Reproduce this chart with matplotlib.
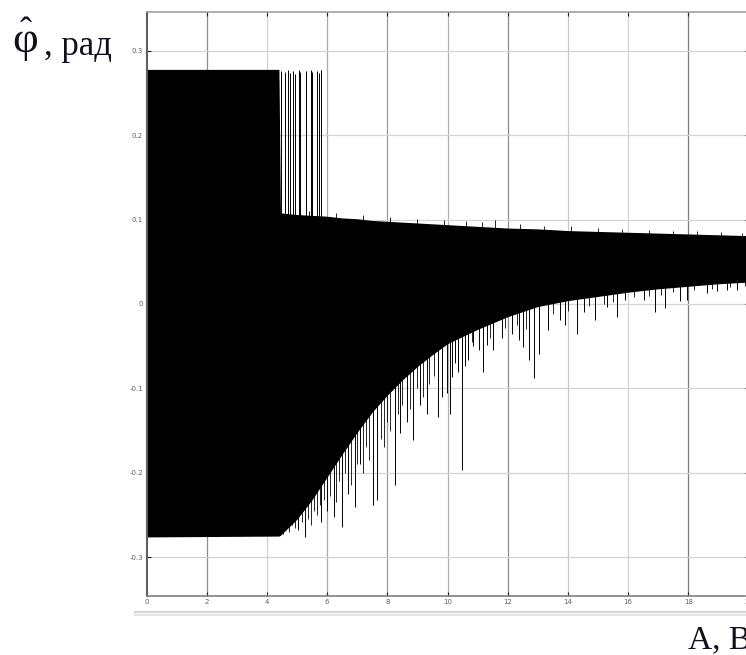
import matplotlib
matplotlib.use("Agg")
import matplotlib.pyplot as plt
from matplotlib.lines import Line2D

# ---- signal data: dense oscillation band (upper / lower envelope) ----
env_x = [0.0, 4.40, 4.45, 5.0, 5.5, 6.0, 6.5, 7.0, 7.5, 8.0, 8.5, 9.0,
         9.5, 10.0, 11.0, 12.0, 13.0, 14.0, 15.0, 16.0, 17.0, 18.0, 19.0, 20.0]
env_hi = [0.278, 0.278, 0.108, 0.106, 0.105, 0.104, 0.102, 0.101, 0.099, 0.098,
          0.097, 0.096, 0.095, 0.094, 0.092, 0.090, 0.089, 0.087, 0.086, 0.085,
          0.084, 0.083, 0.082, 0.081]
env_lo = [-0.276, -0.275, -0.274, -0.255, -0.232, -0.205, -0.178, -0.152, -0.128,
          -0.108, -0.090, -0.074, -0.060, -0.047, -0.030, -0.015, -0.003, 0.004,
          0.009, 0.014, 0.018, 0.021, 0.024, 0.026]

# isolated upward bursts after the large-amplitude stage
up_x = [4.48, 4.60, 4.69, 4.78, 4.86, 4.93, 5.06, 5.11, 5.31, 5.48, 5.51,
        5.67, 5.73, 5.81]
up_y = [0.276, 0.275, 0.277, 0.274, 0.276, 0.272, 0.277, 0.275, 0.276, 0.277,
        0.275, 0.276, 0.274, 0.277]

# small ripples on top of the band
rip_x = [4.7, 5.4, 6.3, 7.2, 8.1, 9.0, 9.9, 10.6, 11.14, 11.58, 12.4, 13.2,
         14.1, 15.0, 15.8, 16.7, 17.5, 18.3, 19.1, 19.8]
rip_y = [0.112, 0.110, 0.108, 0.106, 0.103, 0.101, 0.100, 0.098, 0.0977, 0.0996,
         0.095, 0.093, 0.092, 0.090, 0.089, 0.088, 0.087, 0.086, 0.085, 0.084]

# isolated downward excursions below the band
dn_x = [5.04, 5.26, 5.81, 6.00, 6.22, 6.48, 6.70, 6.92, 7.09, 7.53, 7.66,
        8.25, 8.42, 8.64, 8.86, 9.08, 9.31, 9.69, 9.81, 9.97, 10.08, 10.14,
        10.25, 10.36, 10.47, 10.58, 10.69, 10.86, 11.03, 11.17, 11.30, 11.52,
        11.80, 12.14, 12.36, 12.52, 12.72, 12.86, 13.05, 13.35, 13.74, 13.91,
        14.30, 14.52, 14.91, 15.30, 15.63, 15.91, 16.52, 16.91, 17.24, 17.74,
        17.96, 18.63, 18.96, 19.29, 19.62]
dn_y = [-0.268, -0.276, -0.258, -0.245, -0.252, -0.264, -0.225, -0.240, -0.190,
        -0.238, -0.232, -0.215, -0.153, -0.140, -0.161, -0.120, -0.130, -0.134,
        -0.110, -0.106, -0.130, -0.086, -0.070, -0.080, -0.197, -0.074, -0.066,
        -0.050, -0.055, -0.080, -0.048, -0.055, -0.040, -0.035, -0.043, -0.051,
        -0.066, -0.088, -0.059, -0.031, -0.019, -0.025, -0.035, -0.009, -0.019,
        -0.003, -0.015, 0.005, 0.005, -0.009, -0.005, 0.003, 0.005, 0.013,
        0.015, 0.017, 0.017]

# denser fringe of shorter excursions along the lower edge
fr_x = [4.55, 4.65, 4.75, 4.85, 4.95, 5.15, 5.35, 5.45, 5.55, 5.65, 5.75, 5.90,
        6.10, 6.30, 6.40, 6.60, 6.80, 7.00, 7.20, 7.30, 7.40, 7.80, 7.90, 8.00,
        8.10, 8.35, 8.50, 8.75, 9.00, 9.20, 9.40, 9.55, 10.8, 11.4, 11.9, 12.3,
        12.6, 13.5, 14.0, 14.7, 15.2, 15.5, 16.2, 16.7, 17.1, 17.5, 18.2, 18.8,
        19.4, 19.9]
fr_y = [-0.272, -0.268, -0.270, -0.262, -0.266, -0.258, -0.255, -0.262, -0.245,
        -0.250, -0.238, -0.232, -0.228, -0.235, -0.210, -0.200, -0.215, -0.190,
        -0.200, -0.170, -0.185, -0.160, -0.170, -0.140, -0.150, -0.130, -0.120,
        -0.125, -0.100, -0.110, -0.095, -0.085, -0.045, -0.040, -0.028, -0.025,
        -0.030, -0.012, -0.008, -0.002, 0.000, 0.002, 0.008, 0.010, 0.011, 0.014,
        0.016, 0.018, 0.020, 0.021]

x_ticks = [0, 2, 4, 6, 8, 10, 12, 14, 16, 18, 20]
y_ticks = [-0.3, -0.2, -0.1, 0, 0.1, 0.2, 0.3]
y_tick_labels = ["-0.3", "-0.2", "-0.1", "0", "0.1", "0.2", "0.3"]
x_grid_shades = ["#8c8c8c", "#d0d0d0", "#a8a8a8", "#9a9a9a", "#b0b0b0",
                 "#8c8c8c", "#c8c8c8", "#d0d0d0", "#7a7a7a"]

# every excursion is drawn up/down from this level, which lies inside the band
BAND_MID = 0.06

W, H = 746, 655
fig = plt.figure(figsize=(W / 100, H / 100), dpi=100)
fig.patch.set_facecolor("white")

ax = fig.add_axes([146.5 / W, (H - 596) / H, 602 / W, 584 / H])
ax.set_xlim(0, 20)
ax.set_ylim(-0.346, 0.346)

# grid
for xv, c in zip(x_ticks[1:-1], x_grid_shades):
    ax.axvline(xv, color=c, lw=0.9, zorder=0)
for yv in y_ticks:
    ax.axhline(yv, color="#d4d4d4", lw=0.9, zorder=0)

# signal
ax.fill_between(env_x, env_lo, env_hi, color="black", lw=0, zorder=2)
ax.vlines(up_x, BAND_MID, up_y, color="black", lw=0.7, zorder=2)
ax.vlines(rip_x, BAND_MID, rip_y, color="black", lw=0.6, zorder=2)
ax.vlines(dn_x, dn_y, BAND_MID, color="black", lw=0.7, zorder=2)
ax.vlines(fr_x, fr_y, BAND_MID, color="black", lw=0.6, zorder=2)

# axes styling
ax.spines["left"].set_color("#606060")
ax.spines["left"].set_linewidth(1.5)
ax.spines["bottom"].set_color("#808080")
ax.spines["bottom"].set_linewidth(1.2)
ax.spines["top"].set_color("#a0a0a0")
ax.spines["top"].set_linewidth(1.2)
ax.spines["right"].set_color("#606060")

ax.set_xticks(x_ticks)
ax.set_xticklabels([str(v) for v in x_ticks])
ax.set_yticks(y_ticks)
ax.set_yticklabels(y_tick_labels)
ax.tick_params(direction="in", length=3, width=0.8, color="#222222",
               labelsize=5, labelcolor="#606060", pad=2.5,
               top=True, right=True)

# window frame lines below the plot
fig.add_artist(Line2D([135 / W, 1.0], [1 - 611.5 / H, 1 - 611.5 / H],
                      color="#d6d6d6", lw=1.6))
fig.add_artist(Line2D([135 / W, 1.0], [1 - 614.5 / H, 1 - 614.5 / H],
                      color="#e4e4e4", lw=1.4))

# axis captions
serif = ["Liberation Serif", "DejaVu Serif"]
fig.text(25.5 / W, 1 - 41 / H, "φ", fontsize=32, family=serif,
         ha="center", va="center", color="#10101c")
fig.text(25.5 / W, 1 - 33 / H, "ˆ", fontsize=26, family=serif,
         ha="center", va="center", color="#10101c")
fig.text(44 / W, 1 - 55 / H, ", рад", fontsize=25, family=serif,
         ha="left", va="baseline", color="#10101c")
fig.text(688 / W, 1 - 648 / H, "A, В", fontsize=24, family=serif,
         ha="left", va="baseline", color="#10101c")

fig.savefig("out.png", dpi=100)
